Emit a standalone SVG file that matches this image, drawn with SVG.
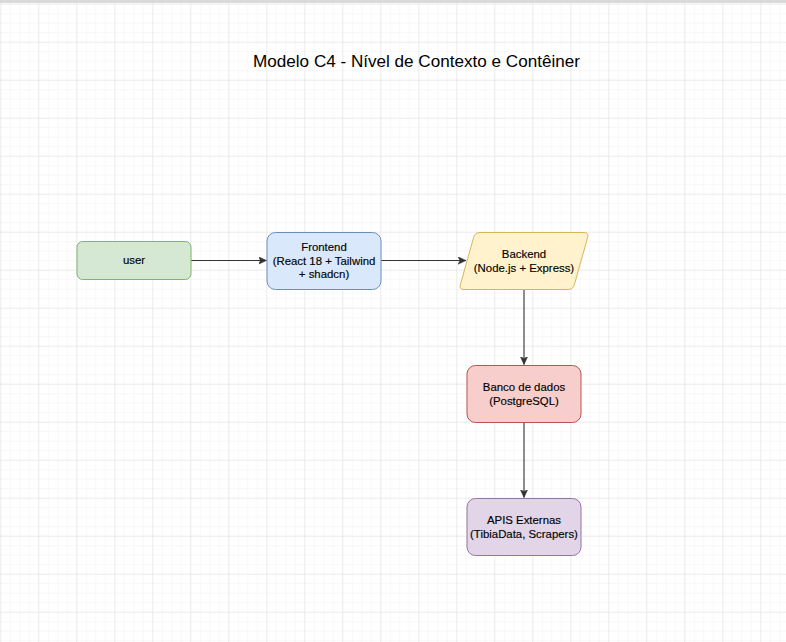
<svg xmlns="http://www.w3.org/2000/svg" width="786" height="642" viewBox="0 0 786 642">
  <defs>
    <pattern id="minor" patternUnits="userSpaceOnUse" x="0.3" y="3.7" width="9.5" height="9.5">
      <path d="M 0 0 L 9.5 0 M 0 0 L 0 9.5" stroke="#f1f1f1" stroke-width="1" fill="none"/>
    </pattern>
    <pattern id="major" patternUnits="userSpaceOnUse" x="0.3" y="3.7" width="38" height="38">
      <path d="M 0 0 L 38 0 M 0 0 L 0 38" stroke="#e0e0e0" stroke-width="1" fill="none"/>
    </pattern>
    <marker id="arrow" markerUnits="userSpaceOnUse" markerWidth="9" markerHeight="8" refX="8" refY="3.75" orient="auto">
      <path d="M 0 0 L 8 3.75 L 0 7.5 L 2 3.75 Z" fill="#333333" stroke="#333333" stroke-width="0.5"/>
    </marker>
    <style>
      .lbl { font-family: "Liberation Sans", Arial, sans-serif; font-size: 11.4px; fill: #000000; stroke: #000000; stroke-width: 0.15px; text-anchor: middle; }
      .title { font-family: "Liberation Sans", Arial, sans-serif; font-size: 17.1px; fill: #000000; text-anchor: middle; }
      .edge { stroke: #333333; stroke-width: 1.1; fill: none; marker-end: url(#arrow); }
    </style>
  </defs>

  <rect x="0" y="0" width="786" height="642" fill="#ffffff"/>
  <rect x="0" y="0" width="786" height="642" fill="url(#minor)"/>
  <rect x="0" y="0" width="786" height="642" fill="url(#major)"/>
  <rect x="0" y="0" width="786" height="3" fill="#dadada"/>

  <text class="title" x="416.5" y="67">Modelo C4 - Nível de Contexto e Contêiner</text>

  <g id="connectors">
    <path class="edge" d="M 191 260.5 L 266.5 260.5"/>
    <path class="edge" d="M 381 260.5 L 466 260.5"/>
    <path class="edge" d="M 524 289 L 524 364.5"/>
    <path class="edge" d="M 524 422 L 524 497.5"/>
  </g>

  <g id="user">
    <rect x="77" y="241.5" width="114" height="38" rx="5.7" ry="5.7" fill="#d5e8d4" stroke="#82b366" stroke-width="1"/>
    <text class="lbl" x="134" y="264.4">user</text>
  </g>

  <g id="frontend">
    <rect x="267" y="232.5" width="114" height="57" rx="8.5" ry="8.5" fill="#dae8fc" stroke="#6c8ebf" stroke-width="1"/>
    <text class="lbl" x="324" y="250.8">Frontend</text>
    <text class="lbl" x="324" y="264.5">(React 18 + Tailwind</text>
    <text class="lbl" x="324" y="278.2">+ shadcn)</text>
  </g>

  <g id="backend">
    <path d="M 480 232.5 L 584 232.5 Q 589 232.5 587.65 237.3 L 574.35 284.7 Q 573 289.5 568 289.5 L 464 289.5 Q 459 289.5 460.35 284.7 L 473.65 237.3 Q 475 232.5 480 232.5 Z" fill="#fff2cc" stroke="#d6b656" stroke-width="1"/>
    <text class="lbl" x="524" y="258">Backend</text>
    <text class="lbl" x="524" y="271.7">(Node.js + Express)</text>
  </g>

  <g id="banco">
    <rect x="467" y="365.5" width="114" height="57" rx="8.5" ry="8.5" fill="#f8cecc" stroke="#b85450" stroke-width="1"/>
    <text class="lbl" x="524" y="390.8">Banco de dados</text>
    <text class="lbl" x="524" y="404.5">(PostgreSQL)</text>
  </g>

  <g id="apis">
    <rect x="467" y="498.5" width="114" height="57" rx="8.5" ry="8.5" fill="#e1d5e7" stroke="#9673a6" stroke-width="1"/>
    <text class="lbl" x="524" y="523.8">APIS Externas</text>
    <text class="lbl" x="524" y="537.5">(TibiaData, Scrapers)</text>
  </g>
</svg>
